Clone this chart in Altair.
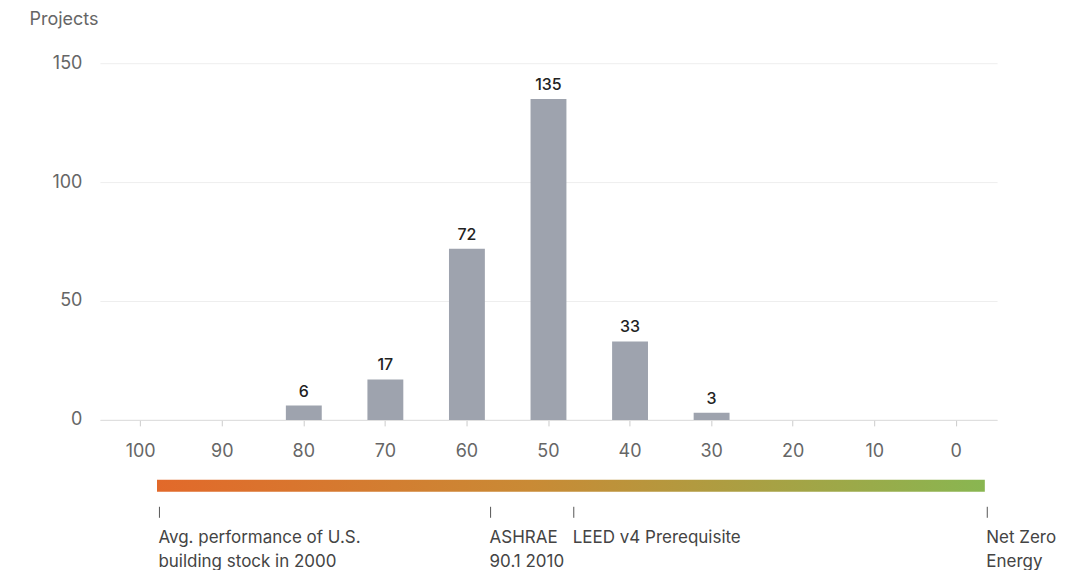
import altair as alt
import pandas as pd

# ---- data ----
categories = [100, 90, 80, 70, 60, 50, 40, 30, 20, 10, 0]
projects = [0, 0, 6, 17, 72, 135, 33, 3, 0, 0, 0]

marker_values = [97.7, 57.1, 46.9, -3.8]
marker_labels = [
    "Avg. performance of U.S.\nbuilding stock in 2000",
    "ASHRAE\n90.1 2010",
    "LEED v4 Prerequisite",
    "Net Zero\nEnergy",
]
gradient_start = [98.0]
gradient_end = [-3.5]

cat_labels = [str(c) for c in categories]
bars_df = pd.DataFrame({"score": cat_labels, "projects": projects})
grad_df = pd.DataFrame({"start": gradient_start, "end": gradient_end})
mark_df = pd.DataFrame({"pos": marker_values, "label": marker_labels})

FONT = "Inter"
W = 898

xband = alt.X(
    "score:N",
    sort=cat_labels,
    scale=alt.Scale(paddingInner=0.56, paddingOuter=0.28),
    axis=alt.Axis(
        title=None, labelAngle=0, labelFontSize=18, labelColor="#666666",
        labelPadding=17, tickSize=6, tickColor="#cccccc", domainColor="#dddddd",
        grid=False,
    ),
)
yq = alt.Y(
    "projects:Q",
    scale=alt.Scale(domain=[0, 150]),
    axis=alt.Axis(
        values=[0, 50, 100, 150], title="Projects", titleAngle=0, titleAlign="left",
        titleBaseline="middle", titleX=-71, titleY=-44, titleFontSize=18,
        titleFontWeight="normal", titleColor="#666666", labelFontSize=18,
        labelColor="#666666", labelPadding=18, ticks=False, domain=False,
        gridColor="#eeeeee",
    ),
)

bars = alt.Chart(bars_df).mark_bar(color="#9EA3AE").encode(x=xband, y=yq)
bar_labels = (
    alt.Chart(bars_df)
    .transform_filter("datum.projects > 0")
    .mark_text(baseline="bottom", dy=-6, fontSize=16, fontWeight=500,
               color="#222222", font=FONT)
    .encode(x=xband, y=yq, text="projects:Q")
)
top = alt.layer(bars, bar_labels).properties(width=W, height=357)

xq = alt.Scale(domain=[105, -5])
grad = (
    alt.Chart(grad_df)
    .mark_rect(
        color=alt.Gradient(
            gradient="linear",
            stops=[
                alt.GradientStop(color="#E2692A", offset=0),
                alt.GradientStop(color="#C98A35", offset=0.45),
                alt.GradientStop(color="#89B651", offset=1),
            ],
            x1=0, x2=1, y1=0, y2=0,
        )
    )
    .encode(
        x=alt.X("start:Q", scale=xq, axis=None),
        x2="end:Q",
        y=alt.value(5),
        y2=alt.value(17),
    )
)
ticks = (
    alt.Chart(mark_df)
    .mark_rule(color="#555555", strokeWidth=1)
    .encode(x=alt.X("pos:Q", scale=xq, axis=None), y=alt.value(32), y2=alt.value(43))
)
texts = (
    alt.Chart(mark_df)
    .mark_text(align="left", baseline="top", lineBreak="\n", lineHeight=24,
               fontSize=17, color="#444444", font=FONT, dx=-1)
    .encode(x=alt.X("pos:Q", scale=xq, axis=None), y=alt.value(55), text="label:N")
)
bottom = alt.layer(grad, ticks, texts).properties(width=W, height=88)

chart = (
    alt.vconcat(top, bottom, spacing=55, bounds="flush")
    .configure(font=FONT)
    .configure_view(stroke="transparent", strokeWidth=0)
    .properties(padding={"left": 21, "top": 2, "right": 0, "bottom": 0})
)
chart.save("out.html", embed_options={"renderer": "svg", "actions": False})
